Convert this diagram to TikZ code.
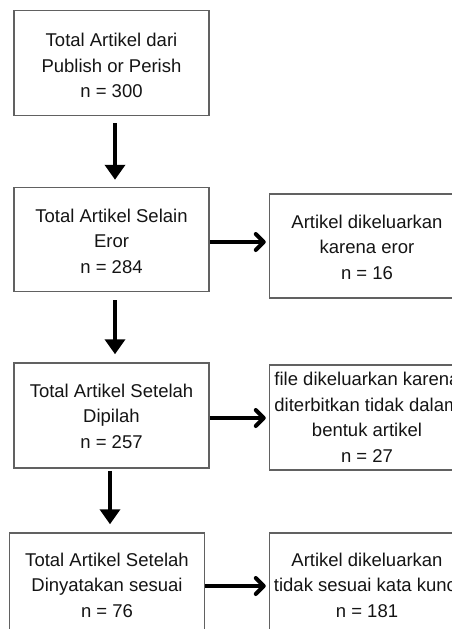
\documentclass[tikz,border=0pt]{standalone}
\usepackage{fontspec}
\setmainfont{Liberation Sans}
\usetikzlibrary{arrows.meta}
\newcommand{\mystrut}[1]{\rule{0pt}{#1}}
\begin{document}
\begin{tikzpicture}[x=1pt,y=-1pt,
  box/.style={draw=black!62,line width=1.5pt,rectangle,minimum width=195pt,minimum height=105pt,
    align=center,inner sep=0pt,text=black!92,font=\fontsize{18.5}{25.5}\selectfont},
  varrow/.style={line width=4.5pt,-{Triangle[width=20pt,length=15pt]}},
  harrow/.style={line width=4pt,-{Straight Barb[length=8pt,width=16pt,round]}}]
\useasboundingbox (0,0) rectangle (452,629);
\clip (0,0) rectangle (452,629);
\node[box] (b1) at (111.5,63) {\mystrut{19pt}Total Artikel dari\\Publish or Perish\\n = 300};
\node[box,minimum height=104pt] (b2) at (111.5,239.5) {\mystrut{17pt}Total Artikel Selain\\Eror\\n = 284};
\node[box,minimum height=104pt] (b3) at (367,246) {\mystrut{16pt}Artikel dikeluarkan\\karena eror\\n = 16};
\node[box] (b4) at (111.5,415.5) {\mystrut{15pt}Total Artikel Setelah\\Dipilah\\n = 257};
\node[box] (b5) at (367,417.5) {file dikeluarkan karena\\diterbitkan tidak dalam\\bentuk artikel\\n = 27};
\node[box,minimum height=104pt] (b6) at (107,585) {Total Artikel Setelah\\Dinyatakan sesuai\\n = 76};
\node[box,minimum height=104pt] (b7) at (367,585) {Artikel dikeluarkan\\tidak sesuai kata kunci\\n = 181};
\coordinate (v1) at (115,0);
\coordinate (v2) at (115,0);
\coordinate (v3) at (110,0);
\coordinate (h1) at (0,242);
\coordinate (h2) at (0,418);
\coordinate (h3) at (0,586);
\draw[varrow,shorten <=7pt,shorten >=7pt] (b1.south -| v1) -- (b2.north -| v1);
\draw[varrow,shorten <=8pt,shorten >=8pt] (b2.south -| v2) -- (b4.north -| v2);
\draw[varrow,shorten <=2pt,shorten >=8pt] (b4.south -| v3) -- (b6.north -| v3);
\draw[harrow,shorten >=3pt] (b2.east |- h1) -- (b3.west |- h1);
\draw[harrow,shorten >=3pt] (b4.east |- h2) -- (b5.west |- h2);
\draw[harrow,shorten >=3pt] (b6.east |- h3) -- (b7.west |- h3);
\end{tikzpicture}
\end{document}
